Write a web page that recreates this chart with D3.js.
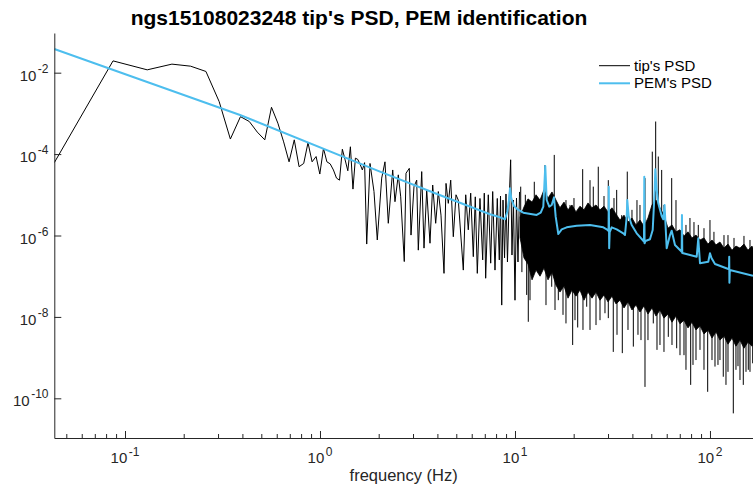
<!DOCTYPE html>
<html>
<head>
<meta charset="utf-8">
<script src="https://cdn.jsdelivr.net/npm/d3@7"></script>
<style>
    body { margin: 0; background: #fff; }
    svg { display: block; font-family: "Liberation Sans", Arial, Helvetica, sans-serif; }
</style>
</head>
<body>
<svg width="753" height="486"></svg>
<script>
// all PSD values are log10 exponents

// tip's PSD, bins that can be told apart (up to ~10.5 Hz)
var tipFreq = [0.0434, 0.0868, 0.130, 0.174, 0.217, 0.260, 0.304, 0.347, 0.391, 0.434,
    0.477, 0.521, 0.564, 0.608, 0.651, 0.694, 0.738, 0.781, 0.825, 0.868,
    0.911, 0.955, 0.998, 1.042, 1.085, 1.128, 1.172, 1.215, 1.259, 1.302,
    1.345, 1.389, 1.432, 1.476, 1.519, 1.562, 1.606, 1.649, 1.693, 1.736,
    1.805, 1.892, 1.967, 2.072, 2.154, 2.240, 2.360, 2.424, 2.521, 2.594,
    2.705, 2.761, 2.871, 2.929, 3.034, 3.133, 3.193, 3.324, 3.415, 3.526,
    3.665, 3.784, 3.920, 4.044, 4.174, 4.325, 4.429, 4.550, 4.681, 4.827,
    4.983, 5.120, 5.432, 5.588, 5.761, 5.927, 6.113, 6.258, 6.408, 6.614,
    6.829, 6.959, 7.073, 7.296, 7.506, 7.685, 7.897, 8.114, 8.309, 8.43,
    8.55, 8.68, 8.84, 8.99, 9.15, 9.32, 9.50, 9.65, 9.82, 10.0,
    10.18, 10.36, 10.55];
var tipLog = [-4.21, -1.71, -1.93, -1.79, -1.84, -1.97, -2.71, -3.63, -3.08, -3.20,
    -3.46, -3.65, -2.85, -3.24, -3.70, -4.19, -3.65, -4.31, -4.23, -3.72,
    -4.19, -4.06, -4.49, -3.86, -4.19, -4.24, -4.39, -4.59, -4.64, -3.88,
    -4.14, -4.41, -3.82, -4.86, -4.10, -4.13, -4.25, -4.39, -4.21, -6.21,
    -4.23, -4.92, -6.11, -4.59, -4.19, -5.70, -4.39, -5.17, -4.51, -5.05,
    -6.64, -4.47, -4.35, -5.99, -4.80, -4.64, -6.36, -4.43, -6.31, -4.88,
    -6.19, -4.76, -5.70, -4.92, -5.50, -6.93, -4.72, -5.21, -4.64, -6.03,
    -5.00, -5.13, -6.85, -5.00, -5.86, -4.96, -6.52, -5.05, -6.93, -5.09,
    -6.60, -4.96, -7.05, -5.00, -6.68, -4.92, -6.85, -5.09, -6.60, -5.03,
    -7.71, -5.13, -6.55, -4.98, -6.65, -5.25, -4.14, -6.48, -5.13, -7.59,
    -5.08, -6.65, -4.93];

// tip's PSD above ~10.5 Hz: too dense to follow, kept as the band it fills
var bandFreq = [10.61, 11.12, 11.66, 12.23, 12.82,
    13.44, 14.08, 14.77, 15.48, 16.23, 17.01, 17.84, 18.70, 19.60, 20.55,
    21.54, 22.59, 23.68, 24.83, 26.03, 27.29, 28.61, 29.99, 31.44, 32.96,
    34.56, 36.23, 37.98, 39.81, 41.74, 43.75, 45.87, 48.09, 50.42, 52.86,
    55.41, 58.09, 60.90, 63.85, 66.94, 70.18, 73.57, 77.13, 80.86, 84.77,
    88.87, 93.17, 97.66, 102.4, 107.4, 112.5, 118.0, 123.7, 129.7, 135.9,
    142.5, 149.4, 156.6, 164.2, 166.2];
var bandHi = [-5.55, -5.30, -5.10, -5.18, -5.00,
    -5.13, -4.88, -5.08, -4.93, -5.13, -5.32, -5.18, -5.37, -5.25, -5.42,
    -5.28, -5.37, -5.20, -5.32, -5.25, -5.37, -5.28, -5.42, -5.32, -5.47,
    -5.62, -5.50, -5.67, -5.57, -5.74, -5.62, -5.77, -5.57, -5.25, -5.13,
    -5.32, -5.50, -5.82, -5.74, -5.91, -5.86, -6.01, -5.91, -6.06, -5.99,
    -6.11, -6.06, -6.21, -6.11, -6.23, -6.16, -6.31, -6.21, -6.36, -6.26,
    -6.31, -6.21, -6.36, -6.26, -6.31];
var bandLo = [-6.05, -6.55, -6.70, -7.09, -6.85,
    -7.00, -6.80, -7.09, -6.90, -7.22, -7.39, -7.24, -7.54, -7.34, -7.49,
    -7.34, -7.59, -7.39, -7.54, -7.39, -7.59, -7.46, -7.63, -7.49, -7.68,
    -7.59, -7.78, -7.63, -7.83, -7.71, -7.88, -7.73, -7.93, -7.78, -7.98,
    -7.83, -8.03, -7.93, -8.13, -7.98, -8.17, -8.08, -8.27, -8.13, -8.32,
    -8.22, -8.42, -8.32, -8.52, -8.37, -8.57, -8.47, -8.67, -8.52, -8.72,
    -8.57, -8.77, -8.62, -8.72, -8.67];

// single bins sticking out of the band
var spikeFreq = [10.70, 11.30, 12.56, 14.25, 15.90, 18.26, 19.15, 20.07, 22.24, 24.25,
    25.21, 26.74, 28.61, 30.10, 32.19, 33.23, 35.26, 37.66, 39.81, 42.23,
    43.75, 46.42, 50.60, 52.67, 54.31, 56.53, 58.09, 63.63, 66.94, 71.59,
    75.32, 78.95, 82.78, 87.10, 93.17, 100.0, 104.8, 118.0, 123.7, 132.8,
    149.4, 160.4,
    10.85, 11.48, 11.70, 11.94, 14.42, 15.43, 16.04, 16.68, 17.63, 18.26, 19.76,
    20.31, 20.97, 22.32, 23.32, 24.25, 26.03, 27.29, 28.94, 30.10, 31.92,
    33.36, 35.51, 37.98, 40.45, 42.73, 44.28, 46.42, 48.09, 51.20, 53.49,
    55.41, 58.09, 61.13, 63.85, 67.49, 70.18, 73.57, 75.32, 79.62, 81.82,
    84.77, 88.87, 93.17, 97.32, 102.4, 106.1, 109.9, 112.5, 117.0, 120.8,
    123.7, 131.7, 135.9, 139.2, 142.5, 148.2, 153.0, 157.2, 160.4, 165.6];
var spikeLog = [-4.80, -5.00, -4.68, -4.27, -4.02, -5.13, -5.25, -5.08, -4.37, -4.64,
    -4.80, -4.31, -5.03, -4.64, -5.08, -4.88, -5.50, -4.43, -5.37, -5.13,
    -5.25, -4.59, -3.94, -3.20, -4.06, -4.39, -5.25, -4.59, -5.13, -5.50,
    -5.74, -5.57, -5.67, -5.74, -5.82, -5.62, -5.91, -5.99, -5.99, -6.06,
    -6.01, -6.11,
    -6.90, -7.46, -8.12, -7.59, -7.71, -7.26, -7.83, -7.59, -7.95, -8.16, -8.69,
    -8.08, -8.26, -8.32, -7.75, -8.32, -8.20, -8.08, -7.91, -8.03, -8.86,
    -8.44, -8.89, -8.32, -8.73, -8.44, -8.57, -9.72, -8.57, -8.16, -8.81,
    -8.69, -8.86, -8.49, -8.69, -8.77, -8.94, -8.94, -9.30, -9.67, -9.18,
    -9.06, -8.81, -9.30, -9.84, -9.06, -9.22, -9.18, -9.06, -9.47, -9.67,
    -9.35, -10.37, -9.30, -9.21, -9.55, -9.67, -9.35, -9.30, -9.35, -9.14];

// PEM model PSD
var pemFreq = [0.0434, 0.389, 2.03, 3.89, 7.445, 8.38, 8.887, 9.13, 9.316, 9.428,
    9.573, 9.882, 10.40, 11.03, 12.92, 13.55, 13.97, 14.30, 14.54, 14.99,
    15.43, 15.85, 16.17, 16.68, 17.36, 18.41, 20.72, 24.25, 28.37, 29.54,
    30.20, 30.27, 30.41, 30.6, 31.33, 33.23, 35.93, 36.66, 37.40, 37.66,
    38.29, 39.67, 42.09, 45.50, 45.87, 46.04, 46.20, 46.7, 49.22, 50.85,
    52.06, 52.43, 53.31, 54.31, 56.53, 57.61, 58.50, 59.97, 62.36, 63.63,
    66.15, 71.59, 71.83, 72.1, 85.5, 87.1, 88.87, 98.0, 100.0, 101.8,
    106.1, 125.2, 125.5, 125.8, 126.4, 166.2];
var pemLog = [-1.418, -3.039, -4.432, -4.963, -5.479, -5.553, -5.602, -5.415, -5.128, -4.840,
    -5.086, -5.275, -5.373, -5.440, -5.496, -5.440, -5.292, -4.292, -5.128, -5.292,
    -5.251, -5.061, -5.538, -5.963, -5.848, -5.799, -5.759, -5.742, -5.799, -5.848,
    -5.889, -4.801, -6.314, -5.914, -5.799, -5.848, -5.946, -5.988, -5.538, -5.128,
    -5.521, -5.742, -5.946, -6.128, -6.147, -4.555, -6.192, -6.135, -6.093, -5.865,
    -4.882, -4.373, -4.882, -5.209, -5.521, -5.602, -5.251, -6.314, -5.988, -5.882,
    -6.233, -6.398, -5.496, -6.430, -6.521, -6.069, -6.683, -6.644, -6.437, -6.553,
    -6.700, -6.830, -6.521, -7.160, -6.848, -6.988];

var xMajor = [0.1, 1, 10, 100],
    xMajorExp = ['-1', '0', '1', '2'];
var xMinor = [0.05, 0.06, 0.07, 0.08, 0.09, 0.2, 0.3, 0.4, 0.5, 0.6, 0.7, 0.8, 0.9,
    2, 3, 4, 5, 6, 7, 8, 9, 20, 30, 40, 50, 60, 70, 80, 90];
var yMajor = [1e-10, 1e-8, 1e-6, 1e-4, 1e-2],
    yMajorExp = ['-10', '-8', '-6', '-4', '-2'];
var legendLabels = ["tip's PSD", "PEM's PSD"];

var svg = d3.select('svg'),
    plotLeft = 54.3, plotRight = 753, plotTop = 33, plotBottom = 438,
    axisColor = '#262626',
    blue = '#4DBEEE';

var x = d3.scaleLog().domain([0.04339, 166.2]).range([plotLeft, plotRight]);
var y = d3.scaleLog().domain([Math.pow(10, -10.975), Math.pow(10, -1.025)]).range([plotBottom, plotTop]);

function pw(v) { return Math.pow(10, v); }

svg.append('clipPath').attr('id', 'plotArea')
    .append('rect')
    .attr('x', plotLeft).attr('y', plotTop)
    .attr('width', plotRight - plotLeft).attr('height', plotBottom - plotTop);

var plot = svg.append('g').attr('clip-path', 'url(#plotArea)');

// dense band
var band = d3.area()
    .x(function(d) { return x(d); })
    .y0(function(d, i) { return y(pw(bandLo[i])); })
    .y1(function(d, i) { return y(pw(bandHi[i])); });

plot.append('path')
    .datum(bandFreq)
    .attr('d', band)
    .attr('fill', '#000')
    .attr('stroke', '#000')
    .attr('stroke-width', 0.8);

// spikes, drawn from the middle of the band
plot.append('g')
    .selectAll('line')
    .data(spikeFreq)
    .enter().append('line')
    .attr('x1', function(d) { return x(d); })
    .attr('x2', function(d) { return x(d); })
    .attr('y1', function(d, i) { return y(pw(spikeLog[i])); })
    .attr('y2', function(d) {
        var j = Math.min(d3.bisectLeft(bandFreq, d), bandFreq.length - 1);
        return y(pw((bandHi[j] + bandLo[j]) / 2));
    })
    .attr('stroke', '#000')
    .attr('stroke-width', 1);

// low frequency part of the tip's PSD
var tipLine = d3.line()
    .x(function(d) { return x(d); })
    .y(function(d, i) { return y(pw(tipLog[i])); });

plot.append('path')
    .datum(tipFreq)
    .attr('d', tipLine)
    .attr('fill', 'none')
    .attr('stroke', '#000')
    .attr('stroke-width', 1);

// PEM
var pemLine = d3.line()
    .x(function(d) { return x(d); })
    .y(function(d, i) { return y(pw(pemLog[i])); });

plot.append('path')
    .datum(pemFreq)
    .attr('d', pemLine)
    .attr('fill', 'none')
    .attr('stroke', blue)
    .attr('stroke-width', 2)
    .attr('stroke-linejoin', 'round');

// axes, ticks inward
svg.append('g')
    .attr('transform', 'translate(0,' + plotBottom + ')')
    .call(d3.axisBottom(x).tickValues(xMajor).tickSize(-7).tickSizeOuter(0).tickFormat(''));
svg.append('g')
    .attr('transform', 'translate(0,' + plotBottom + ')')
    .call(d3.axisBottom(x).tickValues(xMinor).tickSize(-4).tickSizeOuter(0).tickFormat(''))
    .select('.domain').remove();
svg.append('g')
    .attr('transform', 'translate(' + plotLeft + ',0)')
    .call(d3.axisLeft(y).tickValues(yMajor).tickSize(-7).tickSizeOuter(0).tickFormat(''));

svg.selectAll('.domain, .tick line').attr('stroke', axisColor);

var xLab = svg.append('g')
    .selectAll('text')
    .data(xMajor)
    .enter().append('text')
    .attr('x', function(d) { return x(d); })
    .attr('y', 463)
    .attr('text-anchor', 'middle')
    .attr('fill', axisColor)
    .attr('font-size', 15);
xLab.append('tspan').text('10');
xLab.append('tspan')
    .attr('dx', 1.5).attr('dy', -7)
    .attr('font-size', 12)
    .text(function(d, i) { return xMajorExp[i]; });

var yLab = svg.append('g')
    .selectAll('text')
    .data(yMajor)
    .enter().append('text')
    .attr('x', 48.5)
    .attr('y', function(d) { return y(d) + 8; })
    .attr('text-anchor', 'end')
    .attr('fill', axisColor)
    .attr('font-size', 15);
yLab.append('tspan').text('10');
yLab.append('tspan')
    .attr('dx', 1.5).attr('dy', -8)
    .attr('font-size', 12)
    .text(function(d, i) { return yMajorExp[i]; });

svg.append('text')
    .attr('x', (plotLeft + plotRight) / 2)
    .attr('y', 481)
    .attr('text-anchor', 'middle')
    .attr('fill', axisColor)
    .attr('font-size', 16.5)
    .text('frequency (Hz)');

svg.append('text')
    .attr('x', 359)
    .attr('y', 24.5)
    .attr('text-anchor', 'middle')
    .attr('font-weight', 'bold')
    .attr('font-size', 21)
    .attr('fill', '#000')
    .text("ngs15108023248 tip's PSD, PEM identification");

// legend, no box
var legend = svg.append('g')
    .selectAll('g')
    .data(legendLabels)
    .enter().append('g')
    .attr('transform', function(d, i) { return 'translate(599,' + (65.7 + i * 17.6) + ')'; });
legend.append('line')
    .attr('x1', 0).attr('x2', 31)
    .attr('stroke', function(d, i) { return i ? blue : '#000'; })
    .attr('stroke-width', function(d, i) { return i ? 2 : 1; });
legend.append('text')
    .attr('x', 35).attr('y', 5)
    .attr('font-size', 15)
    .attr('fill', '#000')
    .text(function(d) { return d; });
</script>
</body>
</html>
